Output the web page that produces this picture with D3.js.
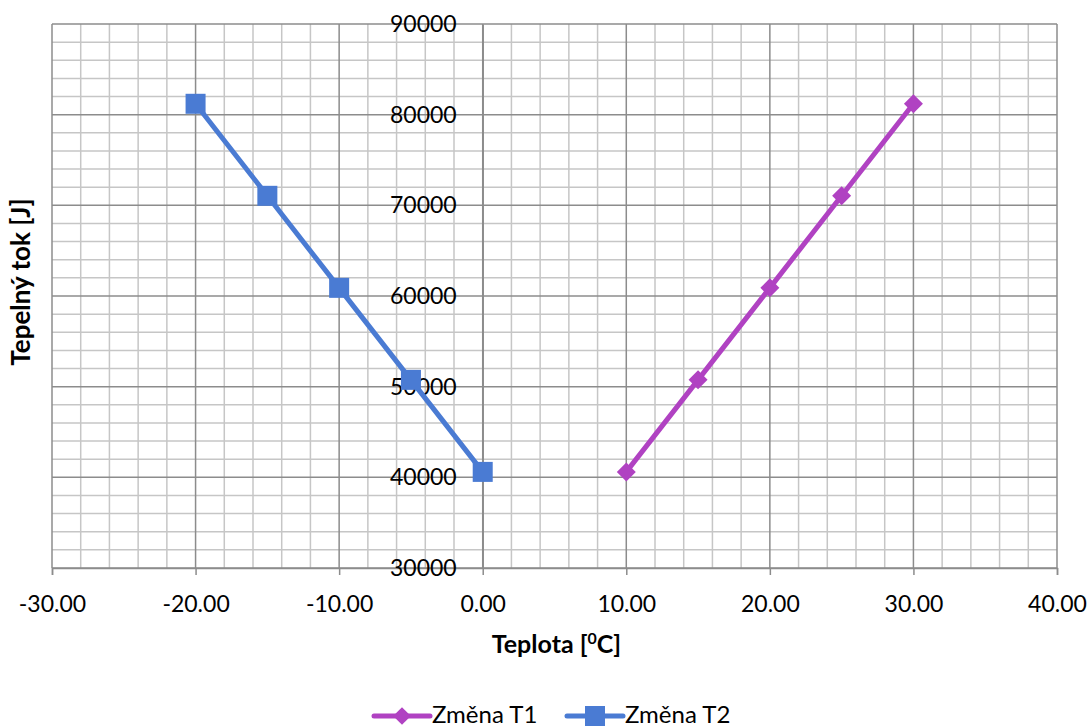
<!DOCTYPE html>
<html>
<head>
<meta charset="utf-8">
<script src="https://cdn.jsdelivr.net/npm/d3@7"></script>
<style>
  body { margin: 0; background: #fff; }
  svg { display: block; font-family: Lato, "Open Sans", sans-serif; }
</style>
</head>
<body>
<svg id="chart" width="1090" height="727"></svg>
<script>
// Series: heat flow versus temperature
const t1Temps = [10, 15, 20, 25, 30];
const t1Flow  = [40600, 50750, 60900, 71050, 81200];
const t2Temps = [0, -5, -10, -15, -20];
const t2Flow  = [40600, 50750, 60900, 71050, 81200];
const seriesNames = ["Změna T1", "Změna T2"];
const xTicks = [-30, -20, -10, 0, 10, 20, 30, 40];
const yTicks = [30000, 40000, 50000, 60000, 70000, 80000, 90000];

const colT1 = "#b042c2";
const colT2 = "#4a7bd3";

const svg = d3.select("#chart");
const pLeft = 52, pRight = 1057, pTop = 24, pBottom = 568;

const x = d3.scaleLinear().domain([-30, 40]).range([pLeft, pRight]);
const y = d3.scaleLinear().domain([30000, 90000]).range([pBottom, pTop]);

// minor grid
const g = svg.append("g");
g.selectAll("line.mx").data(d3.range(-30, 40.01, 2).filter(v => v % 10 !== 0))
  .join("line").attr("x1", d => x(d)).attr("x2", d => x(d))
  .attr("y1", pTop).attr("y2", pBottom)
  .attr("stroke", "#c6c6c6").attr("stroke-width", 1.5);
g.selectAll("line.my").data(d3.range(30000, 90001, 2000).filter(v => v % 10000 !== 0))
  .join("line").attr("y1", d => y(d)).attr("y2", d => y(d))
  .attr("x1", pLeft).attr("x2", pRight)
  .attr("stroke", "#c6c6c6").attr("stroke-width", 1.5);
// major grid
const gM = svg.append("g");
gM.selectAll("line").data(xTicks)
  .join("line").attr("x1", d => x(d)).attr("x2", d => x(d))
  .attr("y1", pTop).attr("y2", pBottom)
  .attr("stroke", "#8c8c8c").attr("stroke-width", 1.5);
const gM2 = svg.append("g");
gM2.selectAll("line").data(yTicks)
  .join("line").attr("y1", d => y(d)).attr("y2", d => y(d))
  .attr("x1", pLeft).attr("x2", pRight)
  .attr("stroke", "#8c8c8c").attr("stroke-width", 1.5);

// x axis at the bottom (plain hyphen for negatives)
const fmtX = v => d3.format(".2f")(v).replace("\u2212", "-");
const xAxis = d3.axisBottom(x).tickValues(xTicks).tickSize(7).tickFormat(fmtX);
const xa = svg.append("g").attr("transform", `translate(0,${pBottom})`).call(xAxis);
xa.select(".domain").attr("stroke", "#8c8c8c").attr("stroke-width", 1.5);
xa.selectAll(".tick line").attr("stroke", "#8c8c8c").attr("stroke-width", 1.5);
xa.selectAll("text").attr("font-size", 23).attr("fill", "#000")
  .attr("y", 44).attr("dy", 0)
  .attr("font-family", "Lato, sans-serif");

// y axis crossing at zero
const yAxis = d3.axisLeft(y).tickValues(yTicks).tickSize(0).tickPadding(26).tickFormat(d3.format("d"));
const ya = svg.append("g").attr("transform", `translate(${x(0)},0)`).call(yAxis);
ya.select(".domain").attr("stroke", "#8c8c8c").attr("stroke-width", 1.5);
ya.selectAll("text").attr("font-size", 23).attr("fill", "#000")
  .attr("font-family", "Lato, sans-serif");

// axis titles
const xt = svg.append("text").attr("x", x(5) + 2).attr("y", 653).attr("text-anchor", "middle")
  .attr("font-size", 25).attr("font-weight", "bold");
xt.append("tspan").text("Teplota [");
xt.append("tspan").attr("dy", -9).attr("font-size", 16).text("0");
xt.append("tspan").attr("dy", 9).text("C]");
svg.append("text").attr("transform", `translate(30,282) rotate(-90)`)
  .attr("text-anchor", "middle").attr("font-size", 26).attr("font-weight", "bold")
  .text("Tepelný tok [J]");

// lines
const line = d3.line().x(d => x(d[0])).y(d => y(d[1]));
const t1 = t1Temps.map((t, i) => [t, t1Flow[i]]);
const t2 = t2Temps.map((t, i) => [t, t2Flow[i]]);

svg.append("path").datum(t1).attr("d", line).attr("fill", "none")
  .attr("stroke", colT1).attr("stroke-width", 5).attr("stroke-linejoin", "round");
svg.append("path").datum(t2).attr("d", line).attr("fill", "none")
  .attr("stroke", colT2).attr("stroke-width", 5).attr("stroke-linejoin", "round");

const diamond = d3.symbol().type(d3.symbolDiamond2).size(230);
svg.append("g").selectAll("path").data(t1).join("path")
  .attr("d", diamond).attr("transform", d => `translate(${x(d[0])},${y(d[1])})`)
  .attr("fill", colT1);
svg.append("g").selectAll("rect").data(t2).join("rect")
  .attr("x", d => x(d[0]) - 10).attr("y", d => y(d[1]) - 10)
  .attr("width", 20).attr("height", 20).attr("fill", colT2);

// legend
const lg = svg.append("g").attr("transform", "translate(0,716)");
[[colT1, 374, "d"], [colT2, 567, "s"]].forEach(([c, lx, k], i) => {
  lg.append("line").attr("x1", lx).attr("x2", lx + 56).attr("y1", 0).attr("y2", 0)
    .attr("stroke", c).attr("stroke-width", 5).attr("stroke-linecap", "round");
  if (k === "d") {
    lg.append("path").attr("d", d3.symbol().type(d3.symbolDiamond2).size(200)())
      .attr("transform", `translate(${lx + 28},0)`).attr("fill", c);
  } else {
    lg.append("rect").attr("x", lx + 18).attr("y", -10).attr("width", 20).attr("height", 20).attr("fill", c);
  }
  lg.append("text").attr("x", lx + 58).attr("y", 7)
    .attr("font-size", 24).text(seriesNames[i]);
});
</script>
</body>
</html>
